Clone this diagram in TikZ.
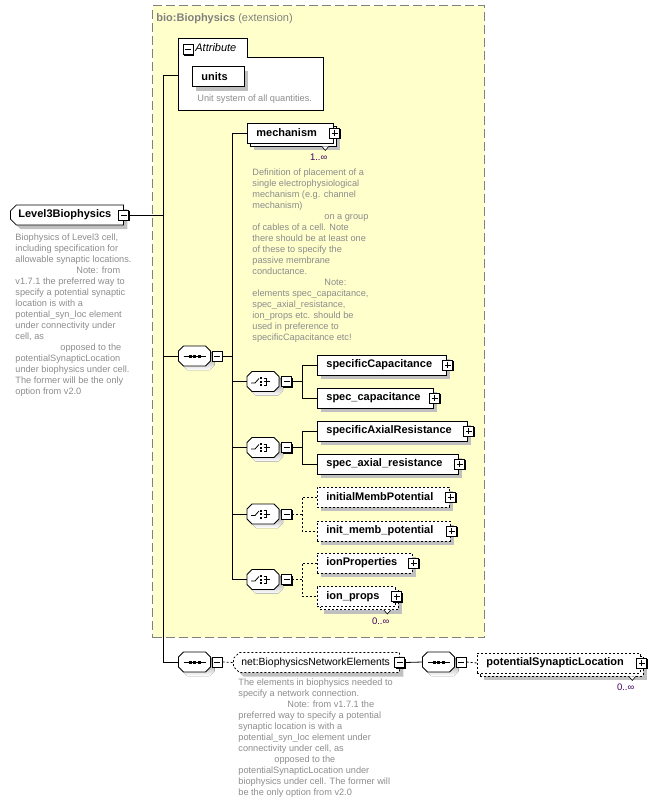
\documentclass[tikz,border=0pt]{standalone}
\usepackage{fontspec}
\setmainfont{Liberation Sans}
\usetikzlibrary{shapes.misc,shadows}
\hyphenpenalty=10000
\exhyphenpenalty=10000

\definecolor{extfill}{HTML}{FFFFCC}
\definecolor{extline}{HTML}{808080}
\definecolor{shade}{HTML}{C0C0C0}
\definecolor{doctext}{HTML}{8C8C8C}
\definecolor{occtext}{HTML}{400060}

\newcommand\namefont{\bfseries\fontsize{11}{13}\selectfont}
\newcommand\docfont{\fontsize{9.2}{11}\selectfont}

% octagon of a compositor, with its shadow
\newcommand\compframe{%
  \fill[shade, shift={(4,4)}] (-11,-10) -- (11,-10) -- (16,-5) -- (16,5) -- (11,10)
    -- (-11,10) -- (-16,5) -- (-16,-5) -- cycle;
  \filldraw[fill=white] (-11,-10) -- (11,-10) -- (16,-5) -- (16,5) -- (11,10)
    -- (-11,10) -- (-16,5) -- (-16,-5) -- cycle;}
% icons inside the compositors
\newcommand\seqicon[1]{%
  \begin{scope}[shift={(#1)}]
    \compframe
    \draw (-11,0) -- (11,0);
    \foreach \dx in {-4.5,0,4.5}
      \fill (\dx-1.5,-1.5) rectangle (\dx+1.5,1.5);
  \end{scope}}
\newcommand\choiceicon[1]{%
  \begin{scope}[shift={(#1)}]
    \compframe
    \draw (-12,1.5) -- (-8,1.5) -- (-4,-3);
    \foreach \dy in {-3.5,0,3.5}
      \fill (-3,\dy-1) rectangle (-1,\dy+1);
    \draw (0.5,-3.5) -- (3.5,-3.5) -- (3.5,3.5) -- (0.5,3.5);
    \draw (0.5,0) -- (7,0);
  \end{scope}}

\tikzset{
  elembase/.style={draw, fill=white, font=\namefont, align=left, anchor=west,
    minimum height=20pt, inner xsep=9pt, inner ysep=0pt},
  elem/.style={elembase, text width=#1,
    drop shadow={shadow xshift=4pt, shadow yshift=-4pt, fill=shade, opacity=1}},
  optelem/.style={elem=#1, dash pattern=on 2pt off 2pt},
  multielem/.style={elembase, text width=#1,
    drop shadow={shadow xshift=7pt, shadow yshift=-7pt, fill=shade, opacity=1},
    copy shadow={shadow xshift=3pt, shadow yshift=-3pt, draw=black, fill=white}},
  optmulti/.style={elembase, text width=#1, dash pattern=on 2pt off 2pt,
    drop shadow={shadow xshift=7pt, shadow yshift=-7pt, fill=shade, opacity=1},
    copy shadow={shadow xshift=3pt, shadow yshift=-3pt, draw=black, fill=white,
      dash pattern=on 2pt off 2pt}},
  globalelem/.style={elem=#1, chamfered rectangle,
    chamfered rectangle corners={north west,south west},
    chamfered rectangle xsep=3pt, chamfered rectangle ysep=3pt, inner xsep=5pt},
  comp/.style={rectangle, minimum width=32pt, minimum height=20pt, inner sep=0pt},
  pmbase/.style={draw, fill=white, minimum size=10pt, inner sep=0pt,
    drop shadow={shadow xshift=1pt, shadow yshift=-1pt, fill=black, opacity=1}},
  minusbox/.style={pmbase, path picture={
    \draw ([xshift=2pt]path picture bounding box.west) -- ([xshift=-2pt]path picture bounding box.east);}},
  plusbox/.style={pmbase, path picture={
    \draw ([xshift=2pt]path picture bounding box.west) -- ([xshift=-2pt]path picture bounding box.east);
    \draw ([yshift=-2pt]path picture bounding box.north) -- ([yshift=2pt]path picture bounding box.south);}},
  doc/.style={font=\docfont, text=doctext, align=left, anchor=north west, inner sep=0pt},
  occ/.style={font=\fontsize{9.5}{11}\selectfont, text=occtext, inner sep=0pt},
  optline/.style={dash pattern=on 2pt off 2pt},
}

\begin{document}
\begin{tikzpicture}[x=1pt, y=-1pt, line width=0.8pt]
\useasboundingbox (0,0) rectangle (670,804);

% bio:Biophysics extension
\node[draw=extline, fill=extfill, line width=1.3pt, dash pattern=on 9pt off 4pt,
  minimum width=332pt, minimum height=632pt, anchor=north west] (ext) at (152,5) {};
\node[anchor=west, inner sep=0pt, text=extline, font=\fontsize{11}{13}\selectfont]
  (extname) at (156,19) {\textbf{bio:Biophysics} (extension)};

% Attribute
\filldraw[fill=white] (178,38) -- (247,38) -- (247,57) -- (323,57) -- (323,110) -- (178,110) -- cycle;
\coordinate (attrin) at (178,75);
\node[minusbox] (attrmin) at (188,49.5) {};
\node[anchor=west, inner sep=0pt, font=\itshape\fontsize{11}{13}\selectfont]
  (attrname) at (195,48) {Attribute};
\node[elem=34pt] (units) at (192,76.5) {units};
\node[doc] (unitsdoc) at (197,94.5) {Unit system of all quantities.};

% Level3Biophysics
\node[globalelem=97pt] (root) at (10,215) {Level3Biophysics};
\node[minusbox] (rootmin) at (root.east) {};
\node[doc] (rootdoc) at (15,233.5) {Biophysics of Level3 cell,\\including specification for\\allowable synaptic locations.\\\hspace*{61pt}Note: from\\v1.7.1 the preferred way to\\specify a potential synaptic\\location is with a\\potential\_syn\_loc element\\under connectivity under\\cell, as\\\hspace*{45pt}opposed to the\\potentialSynapticLocation\\under biophysics under cell.\\The former will be the only\\option from v2.0};

% mechanism
\node[multielem=68pt] (mech) at (247,133) {mechanism};
\node[plusbox] (mech-plus) at ([xshift=1pt]mech.east) {};
\filldraw[fill=white, line width=0.6pt] ([xshift=-12pt,yshift=-3pt]mech.south east) -- ++(3.5,4) -- ++(3.5,-4);
\node[occ, anchor=east] (mechocc) at ([xshift=-6pt,yshift=-14pt]mech.south east) {1..∞};
\node[doc] (mechdoc) at (252,168.5) {Definition of placement of a\\single electrophysiological\\mechanism (e.g. channel\\mechanism)\\\hspace*{72pt}on a group\\of cables of a cell. Note\\there should be at least one\\of these to specify the\\passive membrane\\conductance.\\\hspace*{72pt}Note:\\elements spec\_capacitance,\\spec\_axial\_resistance,\\ion\_props etc. should be\\used in preference to\\specificCapacitance etc!};

% sequence and choices
\node[comp] (seqA) at (194.5,356) {};
\seqicon{seqA.center}
\node[minusbox, anchor=west] (seqA-min) at ([xshift=1pt]seqA.east) {};
\foreach \c/\y in {chA/381.5, chB/447.5, chC/514, chD/579.5} {
  \node[comp] (\c) at (263,\y) {};
  \choiceicon{\c.center}
  \node[minusbox, anchor=west] (\c-min) at ([xshift=2pt]\c.east) {};
}

\node[elem=111pt] (spcap) at (317,365) {specificCapacitance};
\node[elem=98pt] (spcap2) at (317,398) {spec\_capacitance};
\node[elem=132pt] (axres) at (317,431) {specificAxialResistance};
\node[elem=123pt] (axres2) at (317,464) {spec\_axial\_resistance};
\node[optelem=114pt] (membpot) at (317,497) {initialMembPotential};
\node[optelem=115pt] (membpot2) at (317,531) {init\_memb\_potential};
\node[optelem=77pt] (ionprop) at (317,563) {ionProperties};
\node[optmulti=60pt] (ionprop2) at (317,596.5) {ion\_props};
\foreach \n in {spcap,spcap2,axres,axres2,membpot,membpot2,ionprop,ionprop2}
  \node[plusbox] (\n-plus) at ([xshift=1pt]\n.east) {};
\filldraw[fill=white, line width=0.6pt] ([xshift=-12pt,yshift=-3pt]ionprop2.south east) -- ++(3.5,4) -- ++(3.5,-4);
\node[occ, anchor=east] (ionocc) at ([xshift=-6pt,yshift=-14pt]ionprop2.south east) {0..∞};

% network elements
\node[comp] (seqB) at (194.5,662) {};
\seqicon{seqB.center}
\node[minusbox, anchor=west] (seqB-min) at ([xshift=1pt]seqB.east) {};
\node[globalelem=150pt, optline, font=\fontsize{10.4}{13}\selectfont] (netel) at (233,662.5) {net:BiophysicsNetworkElements};
\node[minusbox] (netel-min) at (netel.east) {};
\node[doc] (neteldoc) at (238,678.5) {The elements in biophysics needed to\\specify a network connection.\\\hspace*{49pt}Note: from v1.7.1 the\\preferred way to specify a potential\\synaptic location is with a\\potential\_syn\_loc element under\\connectivity under cell, as\\\hspace*{36pt}opposed to the\\potentialSynapticLocation under\\biophysics under cell. The former will\\be the only option from v2.0};
\node[comp] (seqC) at (438.5,662) {};
\seqicon{seqC.center}
\node[minusbox, anchor=west] (seqC-min) at ([xshift=1pt]seqC.east) {};
\node[optmulti=145pt] (synloc) at (477,663) {potentialSynapticLocation};
\node[plusbox] (synloc-plus) at ([xshift=1pt]synloc.east) {};
\filldraw[fill=white, line width=0.6pt] ([xshift=-12pt,yshift=-3pt]synloc.south east) -- ++(3.5,4) -- ++(3.5,-4);
\node[occ, anchor=east] (synocc) at ([xshift=-6pt,yshift=-14pt]synloc.south east) {0..∞};

% connectors
\coordinate (busA) at (163,0);
\coordinate (busB) at (232,0);
\coordinate (busC) at (302,0);
\draw (rootmin.east) -- (rootmin.east -| busA);
\draw (attrin) -- (attrin -| busA) -- (busA |- seqB.west) -- (seqB.west);
\draw (seqA.west -| busA) -- (seqA.west);
\draw (mech.west) -- (mech.west -| busB) -- (busB |- chD.west) -- (chD.west);
\draw (seqA-min.east) -- (seqA-min.east -| busB);
\foreach \c in {chA,chB,chC}
  \draw (\c.west -| busB) -- (\c.west);
\draw (chA-min.east) -- (chA-min.east -| busC);
\draw (spcap.west) -- (spcap.west -| busC) -- (busC |- spcap2.west) -- (spcap2.west);
\draw (chB-min.east) -- (chB-min.east -| busC);
\draw (axres.west) -- (axres.west -| busC) -- (busC |- axres2.west) -- (axres2.west);
\draw[optline] (chC-min.east) -- (chC-min.east -| busC);
\draw[optline] (membpot.west) -- (membpot.west -| busC) -- (busC |- membpot2.west) -- (membpot2.west);
\draw[optline] (chD-min.east) -- (chD-min.east -| busC);
\draw[optline] (ionprop.west) -- (ionprop.west -| busC) -- (busC |- ionprop2.west) -- (ionprop2.west);
\draw[optline] (seqB-min.east) -- (netel.west);
\draw (netel-min.east) -- (seqC.west);
\draw[optline] (seqC-min.east) -- (synloc.west);
\end{tikzpicture}
\end{document}
